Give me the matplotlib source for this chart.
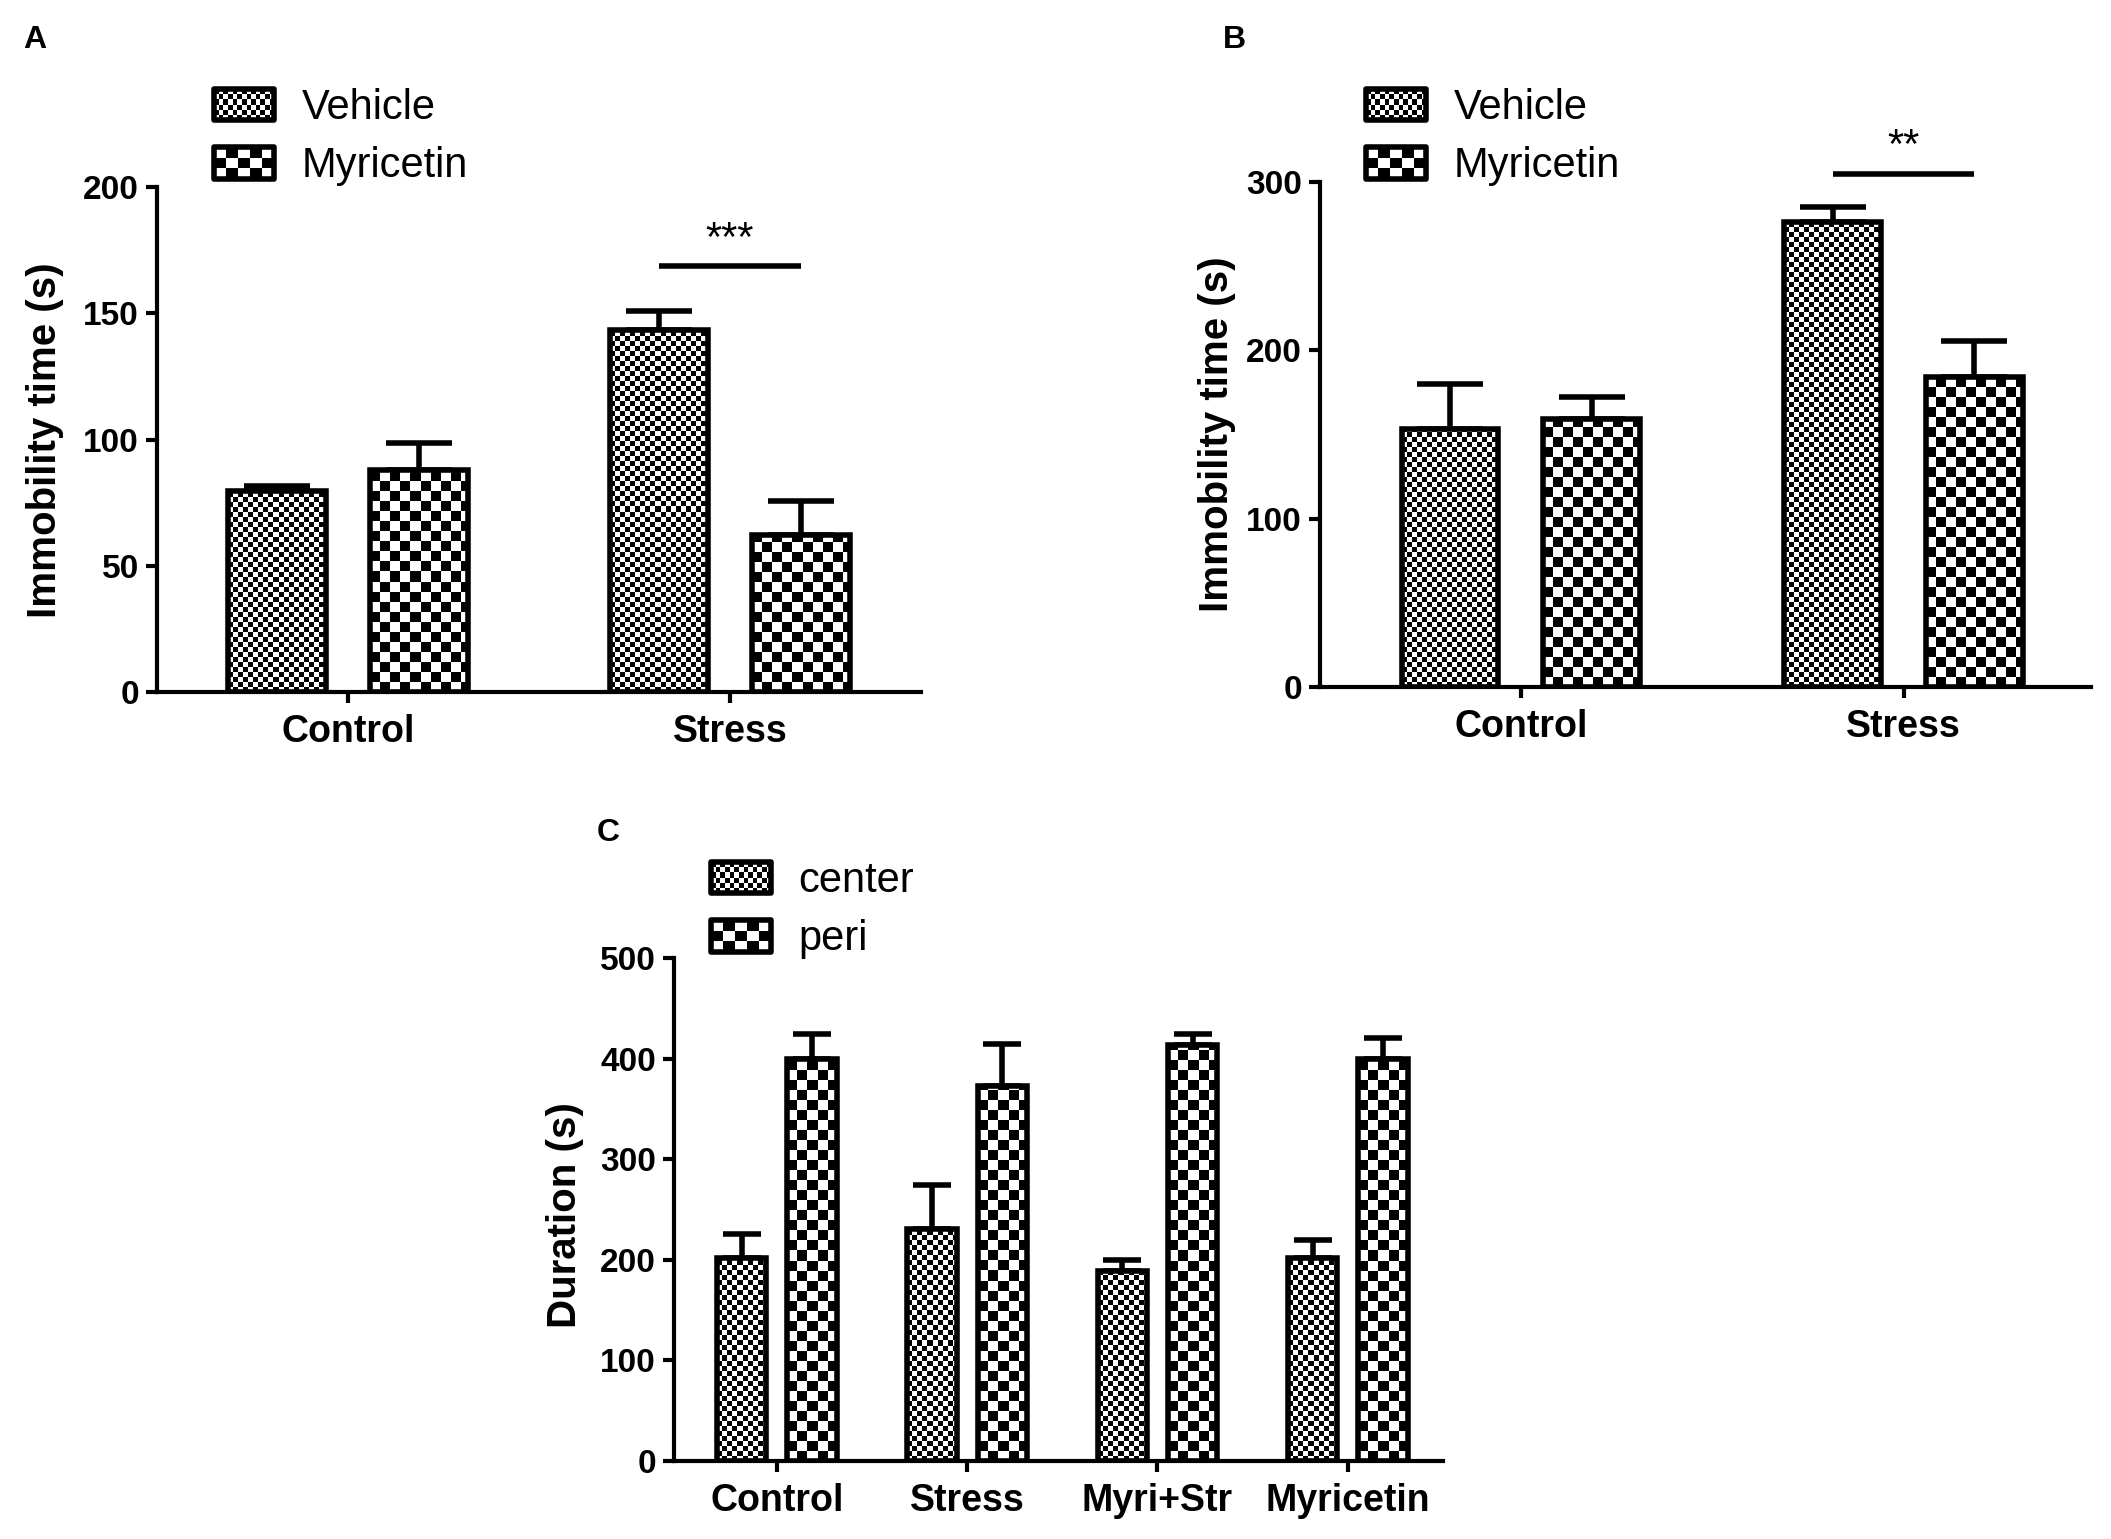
import numpy as np
import matplotlib
matplotlib.use('Agg')
import matplotlib.pyplot as plt
from matplotlib.patches import Rectangle, Patch
from matplotlib.legend_handler import HandlerBase

plt.rcParams['font.family'] = ['Liberation Sans', 'DejaVu Sans']

# A: forced swim test
fst_groups = ['Control', 'Stress']
fst_vehicle = [79.5, 143.5]
fst_vehicle_err = [2, 7.5]
fst_myricetin = [88, 62]
fst_myricetin_err = [10.5, 13.5]

# B: tail suspension test
tst_groups = ['Control', 'Stress']
tst_vehicle = [153, 276]
tst_vehicle_err = [27, 9]
tst_myricetin = [159, 184]
tst_myricetin_err = [13, 21.5]

# C: open field
oft_groups = ['Control', 'Stress', 'Myri+Str', 'Myricetin']
oft_center = [202, 231, 189, 202]
oft_center_err = [24, 43, 11, 18]
oft_peri = [400, 373, 414, 400]
oft_peri_err = [24, 42, 10, 20]

W, H = 2111, 1539
fig = plt.figure(figsize=(W / 100, H / 100), dpi=100)


def checker_fill(ax, bar, cell):
    x0, y0 = bar.get_x(), bar.get_y()
    w, h = bar.get_width(), bar.get_height()
    (px0, py0), (px1, py1) = ax.transData.transform([(x0, y0), (x0 + w, y0 + h)])
    nx, ny = int(round(px1 - px0)), int(round(py1 - py0))
    jj, ii = np.meshgrid(np.arange(nx), np.arange(ny))
    board = ((jj // cell + ii // cell) % 2).astype(float)
    im = ax.imshow(board, cmap='gray_r', vmin=0, vmax=1, origin='lower',
                   extent=(x0, x0 + w, y0, y0 + h), interpolation='nearest',
                   aspect='auto', zorder=2)
    im.set_clip_path(bar)


class CheckerHandler(HandlerBase):
    def __init__(self, ncols, nrows):
        super().__init__()
        self.ncols, self.nrows = ncols, nrows

    def create_artists(self, legend, orig_handle, xdescent, ydescent,
                       width, height, fontsize, trans):
        x0, y0 = -xdescent, -ydescent
        cw, ch = width / self.ncols, height / self.nrows
        arts = [Rectangle((x0, y0), width, height, facecolor='white',
                          edgecolor='none', transform=trans)]
        for i in range(self.nrows):
            for j in range(self.ncols):
                if (i + j) % 2:
                    arts.append(Rectangle((x0 + j * cw, y0 + i * ch), cw, ch,
                                          facecolor='black', edgecolor='none',
                                          transform=trans))
        arts.append(Rectangle((x0, y0), width, height, facecolor='none',
                              edgecolor='black', linewidth=4, joinstyle='round',
                              transform=trans))
        return arts


def panel(rect, groups, a_vals, a_err, b_vals, b_err, offset, width, xlim,
          ylim, yticks, ylabel, label_xy, cap, names, legend_xy):
    ax = fig.add_axes(rect)
    x = np.arange(len(groups))
    bars_a = ax.bar(x - offset, a_vals, width, facecolor='none',
                    edgecolor='black', linewidth=4, zorder=3)
    bars_b = ax.bar(x + offset, b_vals, width, facecolor='none',
                    edgecolor='black', linewidth=4, zorder=3)
    zeros = np.zeros(len(groups))
    ax.errorbar(x - offset, a_vals, yerr=[zeros, a_err], fmt='none',
                ecolor='black', elinewidth=4, capsize=cap, capthick=4, zorder=1)
    ax.errorbar(x + offset, b_vals, yerr=[zeros, b_err], fmt='none',
                ecolor='black', elinewidth=4, capsize=cap, capthick=4, zorder=1)
    ax.set_xlim(xlim)
    ax.set_ylim(ylim)
    for bar in bars_a:
        checker_fill(ax, bar, 5)
    for bar in bars_b:
        checker_fill(ax, bar, 10)
    ax.set_xlim(xlim)
    ax.set_ylim(ylim)

    for s in ['top', 'right']:
        ax.spines[s].set_visible(False)
    for s in ['left', 'bottom']:
        ax.spines[s].set_linewidth(3)
    ax.set_yticks(yticks, labels=[str(v) for v in yticks], fontsize=24,
                  fontweight='bold')
    ax.set_xticks(x, labels=groups, fontsize=27, fontweight='bold')
    ax.tick_params(axis='y', length=8, width=3, pad=5)
    ax.tick_params(axis='x', length=8, width=3, pad=8)
    ax.set_ylabel(ylabel, fontsize=29, fontweight='bold')
    ax.yaxis.set_label_coords(label_xy[0], label_xy[1], transform=fig.transFigure)

    pa, pb = Patch(), Patch()
    ax.legend([pa, pb], names, loc='upper left', bbox_to_anchor=legend_xy,
              bbox_transform=fig.transFigure, frameon=False, fontsize=30,
              borderpad=0, borderaxespad=0, handlelength=1.45,
              handleheight=0.8, handletextpad=0.65, labelspacing=0.44,
              handler_map={pa: CheckerHandler(13, 6), pb: CheckerHandler(5, 3)})
    return ax, x


def signif(ax, x1, x2, y, ystar, stars):
    ax.plot([x1, x2], [y, y], color='black', linewidth=4, clip_on=False,
            solid_capstyle='butt')
    ax.text((x1 + x2) / 2, ystar, stars, ha='center', va='baseline',
            fontsize=30, clip_on=False)


# A
axA, xA = panel([157 / W, 1 - 692 / H, (921 - 157) / W, (692 - 187) / H],
                fst_groups, fst_vehicle, fst_vehicle_err, fst_myricetin,
                fst_myricetin_err, 0.185, 0.257, (-0.5, 1.5), (0, 200),
                [0, 50, 100, 150, 200], 'Immobility time (s)',
                (64 / W, 1 - 440 / H), 24, ['Vehicle', 'Myricetin'],
                (214 / W, 1 - 88 / H))
signif(axA, xA[1] - 0.185, xA[1] + 0.185, 168.7, 174.5, '***')

# B
axB, xB = panel([1320 / W, 1 - 687 / H, (2091 - 1320) / W, (687 - 182) / H],
                tst_groups, tst_vehicle, tst_vehicle_err, tst_myricetin,
                tst_myricetin_err, 0.185, 0.253, (-0.525, 1.49), (0, 300),
                [0, 100, 200, 300], 'Immobility time (s)',
                (1236 / W, 1 - 434 / H), 24, ['Vehicle', 'Myricetin'],
                (1366 / W, 1 - 88 / H))
signif(axB, xB[1] - 0.185, xB[1] + 0.185, 305, 314, '**')

# C
axC, xC = panel([674 / W, 1 - 1461 / H, (1443 - 674) / W, (1461 - 958) / H],
                oft_groups, oft_center, oft_center_err, oft_peri, oft_peri_err,
                0.185, 0.26, (-0.54, 3.5), (0, 500),
                [0, 100, 200, 300, 400, 500], 'Duration (s)',
                (584 / W, 1 - 1215 / H), 14, ['center', 'peri'],
                (711 / W, 1 - 861 / H))

fig.text(35 / W, 1 - 40 / H, 'A', ha='center', va='center', fontsize=23,
         fontweight='bold')
fig.text(1234 / W, 1 - 40 / H, 'B', ha='center', va='center', fontsize=23,
         fontweight='bold')
fig.text(608 / W, 1 - 833 / H, 'C', ha='center', va='center', fontsize=23,
         fontweight='bold')

fig.savefig('out.png', dpi=100)
